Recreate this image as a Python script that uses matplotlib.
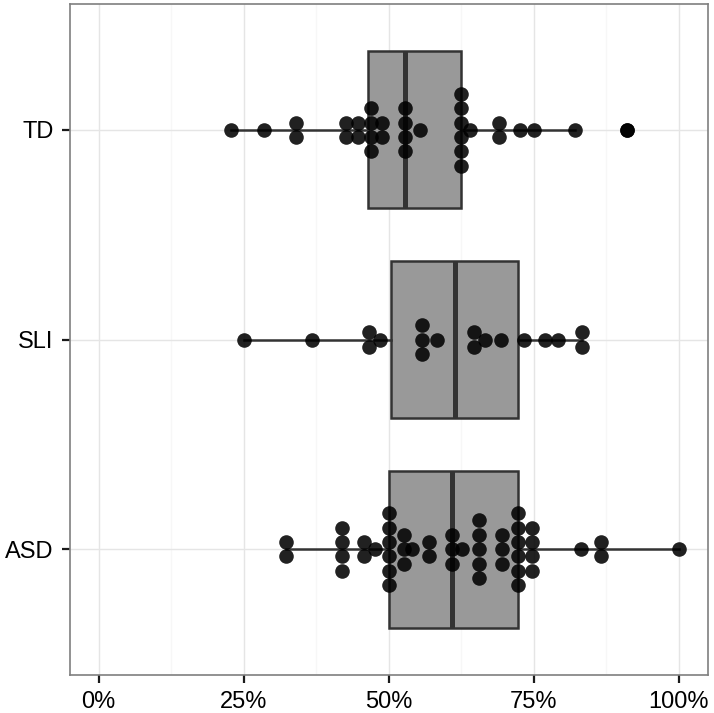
import numpy as np
import matplotlib
matplotlib.use("Agg")
import matplotlib.pyplot as plt
from matplotlib.ticker import FuncFormatter, MultipleLocator

plt.rcParams['font.family'] = ['Liberation Sans', 'DejaVu Sans']

# categories, bottom to top
groups = ["ASD", "SLI", "TD"]

# percent correct per child
asd = [32.4, 32.4, 42.0, 42.0, 42.0, 42.0, 45.7, 45.7, 47.7,
       50.0, 50.0, 50.0, 50.0, 50.0, 50.0, 52.6, 52.6, 52.6, 54.1,
       56.9, 56.9, 60.9, 60.9, 60.9, 62.6,
       65.6, 65.6, 65.6, 65.6, 65.6, 69.5, 69.5, 69.5,
       72.4, 72.4, 72.4, 72.4, 72.4, 72.4, 74.8, 74.8, 74.8, 74.8,
       83.2, 86.6, 86.6, 100.0]
sli = [25.0, 36.8, 46.7, 46.7, 48.6, 55.7, 55.7, 55.7, 58.3,
       64.7, 64.7, 66.7, 69.4, 73.4, 76.9, 79.3, 83.3, 83.3]
td = [22.8, 28.6, 34.0, 34.0, 42.6, 42.6, 44.7, 44.7,
      47.0, 47.0, 47.0, 47.0, 48.8, 48.8, 52.9, 52.9, 52.9, 52.9, 55.5,
      62.5, 62.5, 62.5, 62.5, 62.5, 62.5, 64.1, 69.1, 69.1, 72.6, 75.0,
      82.1, 91.2]
data = [asd, sli, td]

x_ticks = [0, 25, 50, 75, 100]

fig = plt.figure(figsize=(7.14, 7.13), dpi=100)
ax = fig.add_axes([69.5 / 714, 38 / 713, 638 / 714, 671 / 713])

box_col = "#333333"
ax.boxplot(data, positions=[1, 2, 3], orientation="horizontal", widths=0.75,
           patch_artist=True, showcaps=False, whis=1.5,
           boxprops=dict(facecolor="#999999", edgecolor=box_col, linewidth=1.8),
           medianprops=dict(color=box_col, linewidth=3.6),
           whiskerprops=dict(color=box_col, linewidth=1.8),
           flierprops=dict(marker="o", markerfacecolor="black", markeredgecolor="black",
                           markersize=9.5, alpha=0.9),
           zorder=2)

# stack identical values, like a beeswarm
step = 0.0687
for pos, vals in zip([1, 2, 3], data):
    uniq, counts = np.unique(vals, return_counts=True)
    for v, n in zip(uniq, counts):
        offs = (np.arange(n) - (n - 1) / 2) * step
        ax.scatter(np.full(n, v), pos + offs, s=110, color="black", alpha=0.87,
                   linewidths=0, zorder=3)

ax.set_xlim(-5, 105)
ax.set_ylim(0.4, 3.6)
ax.set_xticks(x_ticks)
ax.xaxis.set_minor_locator(MultipleLocator(12.5))
ax.xaxis.set_major_formatter(FuncFormatter(lambda v, p: f"{v:.0f}%"))
ax.set_yticks([1, 2, 3])
ax.set_yticklabels(groups)

ax.grid(True, which="major", color="#e5e5e5", linewidth=1.0, zorder=0)
ax.grid(True, which="minor", axis="x", color="#f7f7f7", linewidth=1.0, zorder=0)
ax.set_axisbelow(True)
ax.tick_params(axis="both", which="major", length=5.5, width=1.6, color="#1a1a1a",
               labelsize=17, labelcolor="black", pad=6)
ax.tick_params(axis="both", which="minor", length=0)
for s in ax.spines.values():
    s.set_color("#7f7f7f")
    s.set_linewidth(1.2)

fig.savefig("out.png", dpi=100)
